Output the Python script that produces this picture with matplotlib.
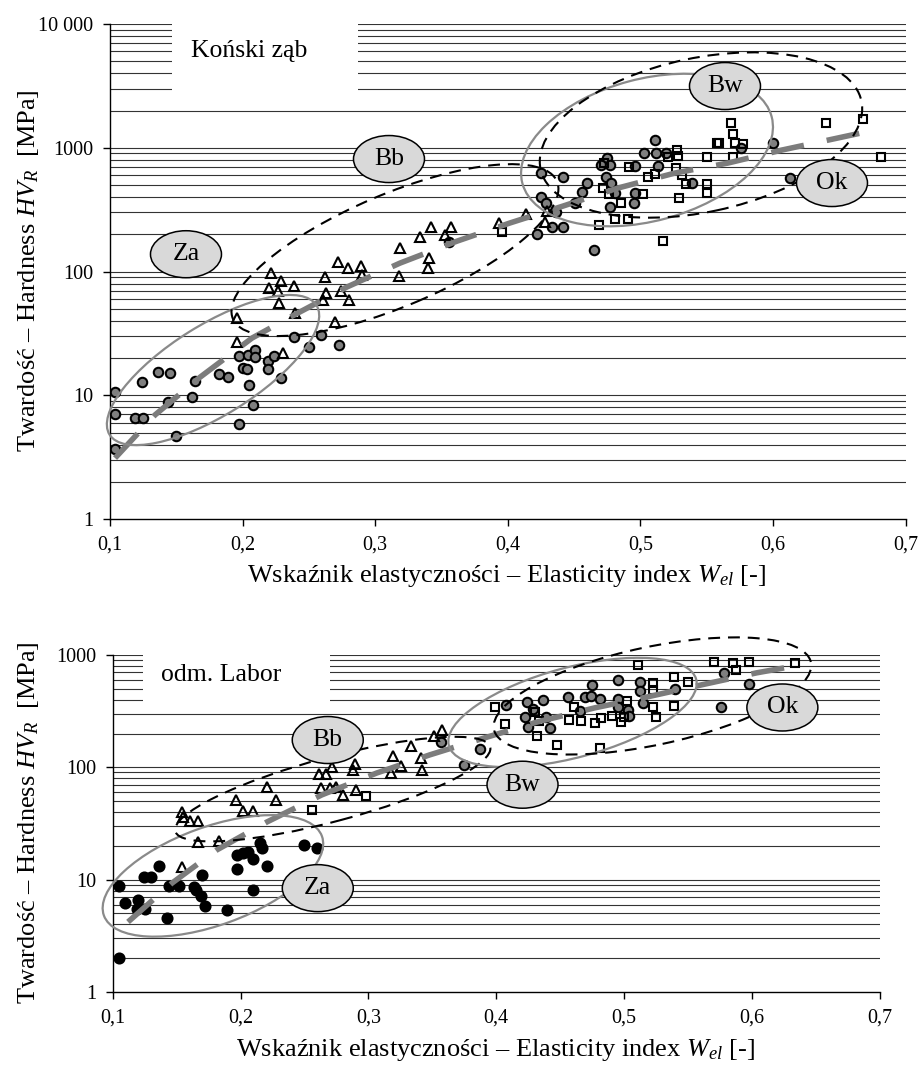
import numpy as np
import matplotlib
matplotlib.use('Agg')
import matplotlib.pyplot as plt
from matplotlib.patches import Ellipse, Rectangle
from matplotlib.transforms import ScaledTranslation
from matplotlib.ticker import NullLocator

plt.rcParams['font.family'] = ['Liberation Serif', 'DejaVu Serif']
plt.rcParams['mathtext.fontset'] = 'custom'
plt.rcParams['mathtext.rm'] = 'Liberation Serif'
plt.rcParams['mathtext.it'] = 'Liberation Serif:italic'

# ---------------- data: top panel (Koński ząb) ----------------
top_za_x = [0.104, 0.104, 0.104, 0.119, 0.125, 0.124, 0.136, 0.145, 0.144, 0.150, 0.162, 0.164,
            0.182, 0.189, 0.197, 0.197, 0.200, 0.203, 0.205, 0.204, 0.209, 0.209, 0.208, 0.219,
            0.219, 0.224, 0.229, 0.239, 0.250, 0.259, 0.273]
top_za_y = [10.7, 7.0, 3.7, 6.5, 6.5, 12.7, 15.5, 15.2, 8.9, 4.7, 9.7, 13.1,
            14.9, 14.0, 5.9, 20.8, 16.5, 16.2, 12.1, 21.1, 23.2, 20.5, 8.3, 18.8,
            16.2, 20.8, 13.9, 29.4, 24.7, 30.7, 25.4]

top_bb_x = [0.1955, 0.1955, 0.2214, 0.2290, 0.2201, 0.2265, 0.2388, 0.2272, 0.2393, 0.2307,
            0.2621, 0.2722, 0.2797, 0.2629, 0.2740, 0.2697, 0.2893, 0.2903, 0.2802, 0.2604,
            0.3187, 0.3179, 0.3338, 0.3419, 0.3569, 0.3526, 0.3408, 0.3396, 0.3934, 0.4137,
            0.4293, 0.4281]
top_bb_y = [41.9, 27, 98, 84, 74, 69, 76, 56, 46, 21.8,
            91, 120, 106, 67, 69, 39, 110, 93, 59, 59,
            156, 92, 191, 227, 227, 198, 128, 107, 245, 292,
            307, 250]

top_bw_x = [0.356, 0.425, 0.442, 0.425, 0.429, 0.436, 0.433, 0.442, 0.422, 0.465, 0.456, 0.460,
            0.451, 0.475, 0.470, 0.477, 0.496, 0.474, 0.478, 0.481, 0.477, 0.496, 0.495, 0.503,
            0.511, 0.512, 0.519, 0.513, 0.539, 0.600, 0.613, 0.576]
top_bw_y = [174, 628, 584, 400, 355, 304, 230, 227, 201, 149, 440, 515,
            360, 823, 727, 727, 712, 584, 515, 430, 330, 430, 360, 910,
            1150, 910, 910, 712, 515, 1087, 565, 996]

top_ok_x = [0.3959, 0.4690, 0.4725, 0.4916, 0.5060, 0.5110, 0.5274, 0.5210, 0.5286, 0.5500,
            0.5575, 0.5268, 0.5311, 0.5344, 0.5504, 0.5504, 0.5293, 0.4716, 0.4766, 0.4852,
            0.5017, 0.4808, 0.4909, 0.5168, 0.5681, 0.5696, 0.5595, 0.5713, 0.5772, 0.5701,
            0.6400, 0.6676, 0.6812]
top_ok_y = [207, 238, 748, 696, 584, 610, 958, 847, 860, 847,
            1087, 690, 600, 508, 508, 430, 390, 475, 420, 360,
            420, 267, 265, 177, 1597, 1300, 1087, 1087, 1070, 847,
            1597, 1700, 847]

top_trend_x = [0.1038, 0.1339, 0.1679, 0.2071, 0.2388, 0.2787, 0.3187, 0.3617, 0.4017,
               0.4416, 0.4831, 0.5261, 0.5661, 0.6068, 0.6732]
top_trend_y = [3.11, 6.93, 14.0, 29.0, 44.5, 75, 117, 176, 247, 338, 473, 625, 753, 959, 1365]

# ---------------- data: bottom panel (odm. Labor) ----------------
bot_za_x = [0.1052, 0.1052, 0.1096, 0.1200, 0.1188, 0.1252, 0.1245, 0.1299, 0.1364, 0.1427,
            0.1442, 0.1520, 0.1635, 0.1651, 0.1695, 0.1690, 0.1721, 0.1891, 0.1969, 0.1969,
            0.2020, 0.2059, 0.2094, 0.2094, 0.2156, 0.2164, 0.2203, 0.2495, 0.2594]
bot_za_y = [2.0, 8.8, 6.2, 6.6, 5.5, 5.5, 10.6, 10.5, 13.1, 4.6,
            8.7, 8.8, 8.6, 8.1, 11.0, 7.1, 5.8, 5.4, 12.4, 16.6,
            17.4, 17.7, 15.3, 8.1, 21.4, 19.0, 13.2, 20.4, 19.0]

bot_bb_x = [0.1539, 0.1552, 0.1604, 0.1669, 0.1664, 0.1833, 0.1539, 0.1963, 0.2020, 0.2098,
            0.2203, 0.2276, 0.2614, 0.2672, 0.2633, 0.2719, 0.2893, 0.2880, 0.2698, 0.2750,
            0.2802, 0.2901, 0.3192, 0.3336, 0.3414, 0.3422, 0.3180, 0.3258, 0.3510, 0.3578]
bot_bb_y = [40, 36, 33, 33, 21.8, 22, 12.9, 51, 41, 41,
            66.5, 51, 87, 87, 65, 100, 107, 95, 65, 67,
            57, 63, 126, 155, 121, 95, 89, 103, 190, 215]

bot_bw_x = [0.3570, 0.3870, 0.3745, 0.4078, 0.4242, 0.4364, 0.4286, 0.4221, 0.4385, 0.4247,
            0.4422, 0.4559, 0.4651, 0.4690, 0.4742, 0.4750, 0.4807, 0.4950, 0.4950, 0.4950,
            0.5028, 0.5041, 0.5125, 0.5120, 0.5145, 0.5401, 0.5784, 0.5973, 0.5758]
bot_bw_y = [169, 145, 105, 360, 385, 400, 330, 280, 280, 228,
            223, 426, 318, 426, 430, 542, 405, 600, 405, 343,
            324, 287, 580, 482, 377, 495, 688, 550, 343]

bot_ok_x = [0.2555, 0.2979, 0.3987, 0.4065, 0.4317, 0.4299, 0.4333, 0.4473, 0.4567, 0.4664,
            0.4604, 0.4768, 0.4820, 0.4906, 0.4977, 0.5002, 0.5023, 0.4807, 0.5106, 0.5229,
            0.5223, 0.5223, 0.5250, 0.5393, 0.5393, 0.5497, 0.5705, 0.5848, 0.5875, 0.5973,
            0.6338]
bot_ok_y = [41.8, 56, 347, 242, 190, 314, 261, 159, 265, 260,
            343, 247, 273, 287, 254, 282, 393, 148, 817, 560,
            490, 343, 282, 640, 352, 580, 873, 845, 735, 873,
            845]

bot_trend_x = [0.112, 0.1463, 0.1815, 0.2206, 0.2635, 0.3065, 0.3479, 0.3909, 0.4323,
               0.4768, 0.5182, 0.5604, 0.6034, 0.6292]
bot_trend_y = [4.2, 9.3, 18.4, 32.6, 56.8, 89, 129, 183, 254, 338, 424, 542, 693, 783]

xticks = [0.1, 0.2, 0.3, 0.4, 0.5, 0.6, 0.7]
xticklabels = ['0,1', '0,2', '0,3', '0,4', '0,5', '0,6', '0,7']
top_yticks = [1, 10, 100, 1000, 10000]
top_yticklabels = ['1', '10', '100', '1000', '10 000']
bot_yticks = [1, 10, 100, 1000]
bot_yticklabels = ['1', '10', '100', '1000']

group_labels = ['Za', 'Bb', 'Bw', 'Ok']

# ---------------- drawing ----------------
fig = plt.figure(figsize=(9.19, 10.68), dpi=100)
ax1 = fig.add_axes([0.1197, 0.5140, 0.8657, 0.4635])
ax2 = fig.add_axes([0.1226, 0.0712, 0.8349, 0.3155])

GRID = '#333333'
GRAYFILL = '#7f7f7f'
ELL_GRAY = '#8a8a8a'


def setup(ax, ymax, yticks, yticklabels):
    ax.set_yscale('log')
    ax.set_xlim(0.1, 0.7)
    ax.set_ylim(1, ymax)
    k = 0
    while 10 ** k < ymax:
        for m in range(1, 10):
            v = m * 10 ** k
            if v > 1:
                ax.axhline(v, color=GRID, lw=0.8, zorder=0.5)
        k += 1
    ax.axhline(ymax, color=GRID, lw=0.8, zorder=0.5)
    for s in ['top', 'right']:
        ax.spines[s].set_visible(False)
    for s in ['left', 'bottom']:
        ax.spines[s].set_linewidth(1.0)
        ax.spines[s].set_zorder(2)
    ax.set_xticks(xticks)
    ax.set_xticklabels(xticklabels)
    ax.set_yticks(yticks)
    ax.set_yticklabels(yticklabels)
    ax.yaxis.set_minor_locator(NullLocator())
    ax.tick_params(axis='both', which='major', direction='out', length=5, width=1,
                   labelsize=14.5, pad=7)
    ax.set_facecolor('white')


def ellipse(ax, xc, yc, w_px, h_px, ang, **kw):
    tr = fig.dpi_scale_trans + ScaledTranslation(xc, yc, ax.transData)
    e = Ellipse((0, 0), w_px / 100.0, h_px / 100.0, angle=ang, transform=tr,
                clip_on=False, **kw)
    ax.add_artist(e)
    return e


def label_ellipse(ax, xc, yc, text):
    ellipse(ax, xc, yc, 71, 47, 0, facecolor='#d9d9d9', edgecolor='black', lw=1.1, zorder=6)
    ax.text(xc, yc, text, ha='center', va='center', fontsize=18.5, zorder=7)


def points(ax, xs, ys, marker, face, size):
    ax.plot(xs, ys, linestyle='none', marker=marker, markersize=size,
            markerfacecolor=face, markeredgecolor='black', markeredgewidth=1.5, zorder=3)


def trend(ax, xs, ys):
    ax.plot(xs, ys, color='#7c7c7c', lw=4.0, dashes=(6.0, 4.2), solid_capstyle='butt',
            dash_capstyle='butt', zorder=4)


# ---- top panel
setup(ax1, 10000, top_yticks, top_yticklabels)
ax1.add_patch(Rectangle((0.078, 0.85), 0.234, 0.16, transform=ax1.transAxes,
                        facecolor='white', edgecolor='none', zorder=1))
ax1.text(0.175, 0.945, 'Koński ząb', transform=ax1.transAxes, ha='center', va='center',
         fontsize=18.5, zorder=7)
points(ax1, top_za_x, top_za_y, 'o', GRAYFILL, 6.8)
points(ax1, top_bw_x, top_bw_y, 'o', GRAYFILL, 6.8)
points(ax1, top_bb_x, top_bb_y, '^', 'none', 6.8)
points(ax1, top_ok_x, top_ok_y, 's', 'none', 6.0)
trend(ax1, top_trend_x, top_trend_y)

ellipse(ax1, 0.1777, 16.0, 244, 90, 32, facecolor='none', edgecolor=ELL_GRAY, lw=1.6, zorder=5)
ellipse(ax1, 0.3149, 149, 352, 112, 23, facecolor='none', edgecolor='black', lw=1.5,
        linestyle=(0, (5.7, 3.8)), zorder=5)
ellipse(ax1, 0.505, 959, 258, 142, 15, facecolor='none', edgecolor=ELL_GRAY, lw=1.6, zorder=5)
ellipse(ax1, 0.5457, 1268, 328, 154, 12, facecolor='none', edgecolor='black', lw=1.5,
        linestyle=(0, (5.7, 3.8)), zorder=5)

label_ellipse(ax1, 0.1573, 138, group_labels[0])
label_ellipse(ax1, 0.3104, 811, group_labels[1])
label_ellipse(ax1, 0.5638, 3155, group_labels[2])
label_ellipse(ax1, 0.6445, 519, group_labels[3])

# ---- bottom panel
setup(ax2, 1000, bot_yticks, bot_yticklabels)
ax2.add_patch(Rectangle((0.0395, 0.843), 0.2437, 0.17, transform=ax2.transAxes,
                        facecolor='white', edgecolor='none', zorder=1))
ax2.text(0.142, 0.94, 'odm. Labor', transform=ax2.transAxes, ha='center', va='center',
         fontsize=18.5, zorder=7)
points(ax2, bot_za_x, bot_za_y, 'o', 'black', 7.2)
points(ax2, bot_bw_x, bot_bw_y, 'o', GRAYFILL, 6.8)
points(ax2, bot_bb_x, bot_bb_y, '^', 'none', 6.8)
points(ax2, bot_ok_x, bot_ok_y, 's', 'none', 6.0)
trend(ax2, bot_trend_x, bot_trend_y)

ellipse(ax2, 0.1784, 10.8, 232, 98, 20, facecolor='none', edgecolor=ELL_GRAY, lw=1.6, zorder=5)
ellipse(ax2, 0.2721, 64, 326, 64, 15, facecolor='none', edgecolor='black', lw=1.5,
        linestyle=(0, (5.7, 3.8)), zorder=5)
ellipse(ax2, 0.4596, 308, 256, 90, 15, facecolor='none', edgecolor=ELL_GRAY, lw=1.6, zorder=5)
ellipse(ax2, 0.5221, 432, 324, 98, 12, facecolor='none', edgecolor='black', lw=1.5,
        linestyle=(0, (5.7, 3.8)), zorder=5)

label_ellipse(ax2, 0.2604, 8.4, group_labels[0])
label_ellipse(ax2, 0.2682, 175, group_labels[1])
label_ellipse(ax2, 0.4205, 70, group_labels[2])
label_ellipse(ax2, 0.6237, 341, group_labels[3])

# axis labels
ylab = r'Twardość – Hardness $HV_R$  [MPa]'
xlab = r'Wskaźnik elastyczności – Elasticity index $W_{el}$ [-]'
fig.text(29 / 919, 1 - 271 / 1068, ylab, rotation=90, ha='center', va='center', fontsize=19)
fig.text(29 / 919, 1 - 823 / 1068, ylab, rotation=90, ha='center', va='center', fontsize=19)
fig.text(507 / 919, 1 - 576 / 1068, xlab, ha='center', va='center', fontsize=19)
fig.text(496 / 919, 1 - 1050 / 1068, xlab, ha='center', va='center', fontsize=19)

ax1.set_xlim(0.1, 0.7)
ax1.set_ylim(1, 10000)
ax2.set_xlim(0.1, 0.7)
ax2.set_ylim(1, 1000)

fig.savefig('out.png', dpi=100, facecolor='white')
